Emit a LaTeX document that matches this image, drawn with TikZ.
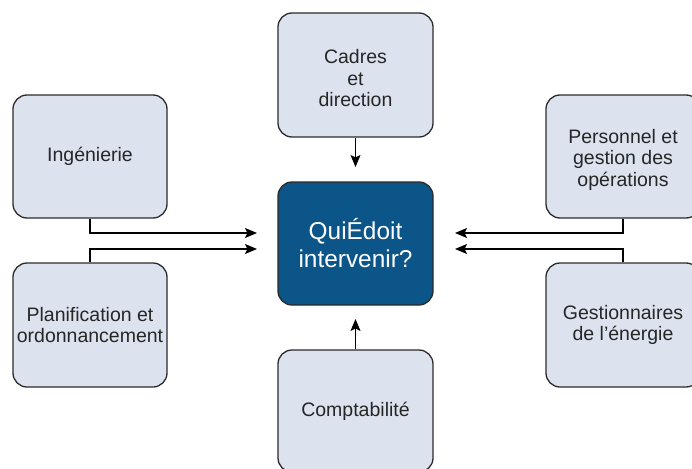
\documentclass[tikz,border=0pt]{standalone}
\usepackage{fontspec}
\setmainfont{Liberation Sans}
\usetikzlibrary{arrows.meta}
\definecolor{boxfill}{HTML}{DCE3EE}
\definecolor{boxline}{HTML}{2B2B2B}
\definecolor{mainfill}{HTML}{0B5589}
\definecolor{txt}{HTML}{262626}
\tikzset{
  rolebox/.style={draw=boxline, line width=1.3pt, fill=boxfill, rounded corners=14pt,
    text=txt, align=center, inner sep=0pt,
    font=\fontsize{19.5}{21.5}\selectfont},
  mainbox/.style={draw=boxline, line width=1.3pt, fill=mainfill, rounded corners=14pt,
    text=white, align=center, inner sep=0pt,
    font=\fontsize{24.4}{28}\selectfont},
  link/.style={draw=black, line width=1.3pt, -{Stealth[length=12pt,width=10pt,inset=2.5pt]}}
}
\begin{document}
\begin{tikzpicture}[x=1pt,y=-1pt]
\useasboundingbox (0,0) rectangle (692,468);
% boxes
\node[rolebox, minimum width=154pt, minimum height=123pt] (ing) at (90,156.5) {Ingénierie};
\node[rolebox, minimum width=154pt, minimum height=124pt] (plan) at (90,325) {Planification et\\ordonnancement};
\node[rolebox, minimum width=155pt, minimum height=124pt] (cad) at (355.5,75) {};
\node[txt, align=center, font=\fontsize{19.5}{21.5}\selectfont, inner sep=0pt] (cadt) at (355.5,78.5) {Cadres\\et\\direction};
\node[mainbox, minimum width=155pt, minimum height=123pt] (ctr) at (355.5,243.5) {QuiÉdoit\\intervenir?};
\node[rolebox, minimum width=154pt, minimum height=123pt] (pers) at (623,156.5) {};
\node[txt, align=center, font=\fontsize{19.5}{21.5}\selectfont, inner sep=0pt] (perst) at (623,159.5) {Personnel et\\gestion des\\opérations};
\node[rolebox, minimum width=154pt, minimum height=124pt] (gest) at (623,325) {Gestionnaires\\de l’énergie};
\node[rolebox, minimum width=155pt, minimum height=122pt] (comp) at (355.5,411) {Comptabilité};
% arrow end points
\coordinate (e1) at (257,233);
\coordinate (e2) at (257,249);
\coordinate (e3) at (455,233);
\coordinate (e4) at (455,249);
\coordinate (e5) at (355.5,167);
\coordinate (e6) at (355.5,319);
% connectors
\draw[link] (ing.south) |- (e1);
\draw[link] (plan.north) |- (e2);
\draw[link] (pers.south) |- (e3);
\draw[link] (gest.north) |- (e4);
\draw[link] (cad.south) -- (e5);
\draw[link] (comp.north) -- (e6);
\end{tikzpicture}
\end{document}
